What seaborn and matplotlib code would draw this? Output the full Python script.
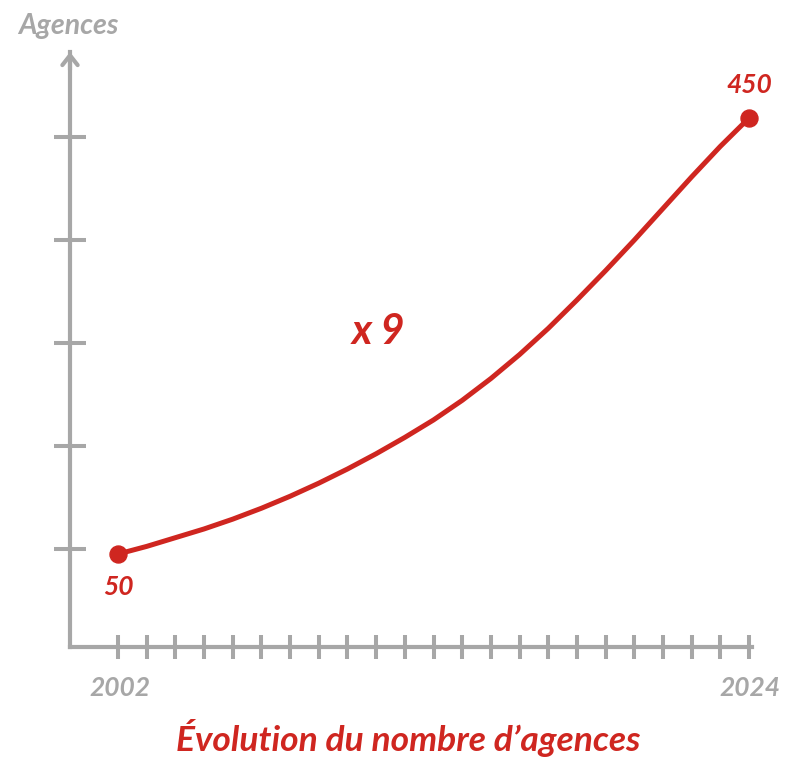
import numpy as np
import pandas as pd
import seaborn as sns
import matplotlib.pyplot as plt

# Values
years = list(range(2002, 2025))
agences = [50, 57, 65, 73, 82, 92, 103, 115, 128, 142, 157, 173, 191,
           211, 233, 257, 283, 310, 338, 367, 396, 424, 450]
y_ticks = [54.6, 149.1, 243.6, 338.1, 432.6]
first_label = "2002"
last_label = "2024"
y_title = "Agences"
x_title = "Évolution du nombre d’agences"
growth_label = "x 9"

red = "#cf2620"
gray = "#a7a7a7"

df = pd.DataFrame({"annee": years, "agences": agences})

sns.set_style("white")
plt.rcParams["font.family"] = ["Lato", "DejaVu Sans"]

fig = plt.figure(figsize=(8, 7.74), dpi=100)
# axes box: spines at x=70px, y=647px, top at arrow tip
ax = fig.add_axes([70 / 800, (774 - 647) / 774, (752 - 70) / 800, (647 - 52) / 774])

sns.lineplot(data=df, x="annee", y="agences", color=red, lw=3.6, ax=ax,
             solid_joinstyle="round", solid_capstyle="round")
ends = df.iloc[[0, -1]]
sns.scatterplot(data=ends, x="annee", y="agences", color=red, s=150,
                edgecolor=red, zorder=5, clip_on=False, ax=ax)

ax.set_xlim(2000.326, 2024.105)
ax.set_ylim(-35.3, 510.6)

for side in ["top", "right"]:
    ax.spines[side].set_visible(False)
for side in ["left", "bottom"]:
    ax.spines[side].set_color(gray)
    ax.spines[side].set_linewidth(3)

ax.set_xticks(years)
ax.set_xticklabels([])
ax.set_yticks(y_ticks)
ax.set_yticklabels([])
ax.tick_params(axis="x", direction="inout", length=17, width=2.9, color=gray, bottom=True)
ax.tick_params(axis="y", direction="inout", length=23, width=2.9, color=gray, left=True)
ax.set_xlabel("")
ax.set_ylabel("")

# arrow head on the y axis
ax.annotate("", xy=(0, 1.0), xytext=(0, 0.97), xycoords="axes fraction",
            arrowprops=dict(arrowstyle="->,head_length=0.7,head_width=0.55",
                            color=gray, lw=3, shrinkA=0, shrinkB=0))

txt = dict(fontstyle="italic", fontweight="bold")
ax.text(years[0], agences[0] - 30, str(agences[0]), color=red, fontsize=19,
        ha="center", va="center", **txt)
ax.text(years[-1], agences[-1] + 30, str(agences[-1]), color=red, fontsize=19,
        ha="center", va="center", **txt)
ax.text(2011.07, 254, growth_label, color=red, fontsize=30, ha="center", va="center", **txt)

fig.text(120 / 800, 1 - 688 / 774, first_label, color=gray, fontsize=19,
         ha="center", va="center", **txt)
fig.text(750 / 800, 1 - 688 / 774, last_label, color=gray, fontsize=19,
         ha="center", va="center", **txt)
fig.text(68 / 800, 1 - 26 / 774, y_title, color=gray, fontsize=20.5,
         ha="center", va="center", **txt)
fig.text(408 / 800, 1 - 738 / 774, x_title, color=red, fontsize=25.5,
         ha="center", va="center", **txt)

fig.savefig("out.png", dpi=100)
